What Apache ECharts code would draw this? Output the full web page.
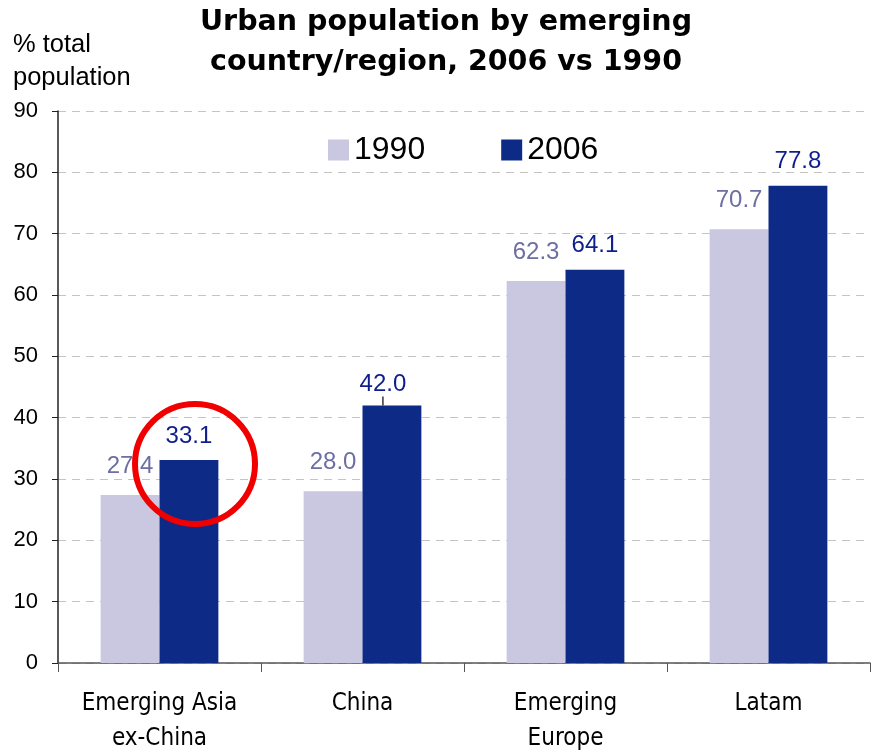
<!DOCTYPE html>
<html>
<head>
<meta charset="utf-8">
<script src="https://cdn.jsdelivr.net/npm/echarts@6/dist/echarts.min.js"></script>
<style>
  html, body { margin: 0; padding: 0; background: #fff; }
  #main { width: 871px; height: 750px; }
</style>
</head>
<body>
<div id="main"></div>
<script>
// chart data
const categories = ['Emerging Asia\nex-China', 'China', 'Emerging\nEurope', 'Latam']
const values1990 = [27.4, 28.0, 62.3, 70.7]
const values2006 = [33.1, 42.0, 64.1, 77.8]
const yTicks = [0, 10, 20, 30, 40, 50, 60, 70, 80, 90]

const myChart = echarts.init(document.getElementById('main'))

const fontMain = 'Liberation Sans, Arial, sans-serif'

// only the China 2006 label is nudged and gets a leader line
const data2006 = values2006.map((v, i) =>
  i === 1 ? { value: v, labelLine: { show: true } } : { value: v }
)

myChart.setOption({
  animation: false,
  title: {
    text: 'Urban population by emerging\ncountry/region, 2006 vs 1990',
    left: 441,
    top: -2,
    textAlign: 'center',
    textStyle: {
      fontFamily: 'DejaVu Sans',
      fontWeight: 'bold',
      fontSize: 28.5,
      lineHeight: 40,
      color: '#000'
    }
  },
  legend: {
    top: 129,
    left: 323,
    itemWidth: 21,
    itemHeight: 21,
    itemGap: 76,
    icon: 'rect',
    textStyle: { fontSize: 32, fontFamily: 'Liberation Sans', color: '#000' },
    data: ['1990', '2006']
  },
  grid: {
    left: 58,
    right: 1,
    top: 111,
    bottom: 87,
    containLabel: false,
    outerBoundsMode: 'none'
  },
  xAxis: {
    type: 'category',
    data: categories,
    axisLine: { lineStyle: { color: '#555', width: 1.5 } },
    axisTick: { show: true, interval: 0, length: 9, lineStyle: { color: '#555' } },
    axisLabel: {
      interval: 0,
      hideOverlap: false,
      fontFamily: 'DejaVu Sans Condensed',
      fontSize: 24,
      lineHeight: 35,
      color: '#000',
      margin: 23
    }
  },
  yAxis: {
    type: 'value',
    min: yTicks[0],
    max: yTicks[yTicks.length - 1],
    interval: 10,
    name: '% total\npopulation',
    nameLocation: 'end',
    nameGap: 0,
    nameTextStyle: {
      align: 'left',
      verticalAlign: 'bottom',
      fontFamily: fontMain,
      fontSize: 25.5,
      lineHeight: 33,
      color: '#000',
      padding: [0, 0, 6, -45]
    },
    axisLine: { show: true, lineStyle: { color: '#222', width: 1.5 } },
    axisTick: { show: true, length: 6, lineStyle: { color: '#222' } },
    axisLabel: {
      fontFamily: fontMain,
      fontSize: 22,
      color: '#000',
      margin: 20
    },
    splitLine: { lineStyle: { color: '#c4c4c4', type: [8, 6] } }
  },
  series: [
    {
      name: '1990',
      type: 'bar',
      data: values1990,
      barWidth: '29%',
      barGap: '0%',
      itemStyle: { color: '#c9c8e0' },
      label: {
        show: true,
        position: 'top',
        distance: 17,
        fontFamily: fontMain,
        fontSize: 24,
        color: '#6d6ea2',
        formatter: (p) => p.value.toFixed(1)
      }
    },
    {
      name: '2006',
      type: 'bar',
      data: data2006,
      barWidth: '29%',
      itemStyle: { color: '#0e2a87' },
      label: {
        show: true,
        position: 'top',
        distance: 12,
        fontFamily: fontMain,
        fontSize: 24,
        color: '#101e8c',
        formatter: (p) => p.value.toFixed(1)
      },
      labelLayout: (p) => (p.dataIndex === 1 ? { dx: -9, dy: 3 } : {}),
      labelLine: { show: false, lineStyle: { color: '#000', width: 1.2 } }
    }
  ],
  graphic: [
    {
      type: 'circle',
      shape: { cx: 195, cy: 464, r: 60 },
      style: { fill: 'none', stroke: '#f00000', lineWidth: 6 },
      z: 100
    }
  ]
})
</script>
</body>
</html>
